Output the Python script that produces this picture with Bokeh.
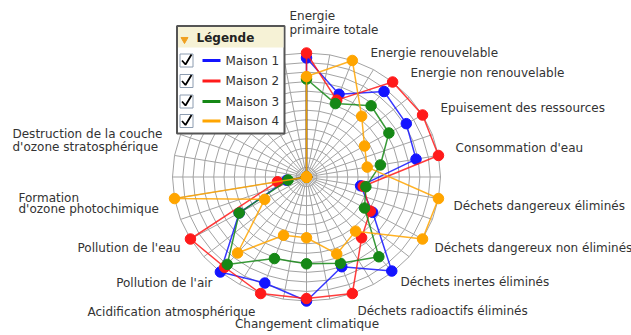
import numpy as np
from bokeh.plotting import figure
from bokeh.models import Range1d
from bokeh.core.properties import value
from bokeh.embed import file_html
from bokeh.resources import INLINE

# ---------------- data ----------------
axes_labels = [
    "Energie\nprimaire totale",
    "Energie renouvelable",
    "Energie non renouvelable",
    "Epuisement des ressources",
    "Consommation d'eau",
    "Déchets dangereux éliminés",
    "Déchets dangereux non éliminés",
    "Déchets inertes éliminés",
    "Déchets radioactifs éliminés",
    "Changement climatique",
    "Acidification atmosphérique",
    "Pollution de l'air",
    "Pollution de l'eau",
    "Formation\nd'ozone photochimique",
    "Destruction de la couche\nd'ozone stratosphérique",
    "", "", "",
]
series_names = ["Maison 1", "Maison 2", "Maison 3", "Maison 4"]
maison_1 = [96, 71, 90, 86, 83, 41, 57, 99, 77, 100, 91, 100, 58, 15, 0, 0, 0, 0]
maison_2 = [100, 66, 100, 100, 100, 43, 55, 64, 100, 98, 100, 95, 100, 22, 0, 0, 0, 0]
maison_3 = [79, 63, 75, 71, 56, 45, 50, 84, 74, 70, 70, 92, 58, 14, 0, 0, 0, 0]
maison_4 = [81, 100, 64, 50, 46, 100, 100, 57, 66, 49, 50, 80, 36, 100, 0, 0, 0, 0]
series_values = [maison_1, maison_2, maison_3, maison_4]
value_max = 100
n_rings = 13
n_spokes = 36

# ---------------- layout / style ----------------
W, H = 631, 335
CX, CY = 306, 176.5      # centre in pixels
RX, RY = 134, 124        # pixel length of one data unit (x / y)
colors = ["#1414ff", "#ff1a1a", "#168816", "#ffa500"]
FONT = value("DejaVu Sans")

def X(px):
    return (px - CX) / RX

def Y(py):
    return (CY - py) / RY

p = figure(width=W, height=H,
           x_range=Range1d(X(0), X(W)), y_range=Range1d(Y(H), Y(0)),
           min_border=0, toolbar_location=None, output_backend="svg",
           x_axis_location=None, y_axis_location=None,
           outline_line_color=None, background_fill_color="white",
           border_fill_color="white")
p.grid.grid_line_color = None

n_axes = len(axes_labels)
theta = np.arange(n_axes) * 2 * np.pi / n_axes

# web grid
sp = np.arange(n_spokes + 1) * 2 * np.pi / n_spokes
ring_xs, ring_ys = [], []
for k in range(1, n_rings + 1):
    r = k / n_rings
    ring_xs.append(list(r * np.sin(sp)))
    ring_ys.append(list(r * np.cos(sp)))
p.multi_line(ring_xs, ring_ys, line_color="#a3a3a3", line_width=1)
p.multi_line([[0, np.sin(a)] for a in sp[:-1]], [[0, np.cos(a)] for a in sp[:-1]],
             line_color="#a3a3a3", line_width=1)

# series
for vals, col in zip(series_values, colors):
    v = np.array(vals, dtype=float) / value_max
    xs = list(v * np.sin(theta)) + [v[0] * np.sin(theta[0])]
    ys = list(v * np.cos(theta)) + [v[0] * np.cos(theta[0])]
    p.line(xs, ys, line_color=col, line_width=1.5, line_alpha=0.85)
    p.scatter(v * np.sin(theta), v * np.cos(theta), size=10.5,
              fill_color=col, line_color=col)

# axis labels (pixel anchors of first line, alignment)
label_layout = [
    (289, 15, "left"), (370, 52, "left"), (410, 72, "left"), (440, 107, "left"),
    (455, 147, "left"), (453, 205, "left"), (434, 247, "left"), (400, 281, "left"),
    (357, 310, "left"), (306.5, 323, "center"), (255, 311, "right"),
    (212, 282, "right"), (180, 247, "right"), (18, 197, "left"), (12, 133, "left"),
]
line_gap = [14, 0, 0, 0, 0, 0, 0, 0, 0, 0, 0, 0, 0, 11.7, 13.5]
for i, (lx, ly, al) in enumerate(label_layout):
    parts = axes_labels[i].split("\n")
    for j, t in enumerate(parts):
        p.text([X(lx)], [Y(ly + j * line_gap[i])], text=[t], text_font=FONT,
               text_font_size="12px", text_align=al, text_baseline="middle",
               text_color="#333333")

# legend box
L, R, T, B = 176.5, 284, 25.5, 133
p.quad(left=[X(L)], right=[X(R)], top=[Y(T)], bottom=[Y(B)],
       fill_color="white", line_color="#555555", line_width=2)
p.quad(left=[X(L + 1)], right=[X(R - 1)], top=[Y(T + 1)], bottom=[Y(47)],
       fill_color="#f6f2d6", line_color=None)
p.scatter([X(184)], [Y(39)], marker="inverted_triangle", size=7,
          fill_color="#f0a020", line_color="#f0a020")
p.text([X(196)], [Y(37)], text=["Légende"], text_font=FONT, text_font_size="12px",
       text_font_style="bold", text_baseline="middle", text_color="#222222")
row_y = [60, 80.5, 101, 120.5]
for name, col, ry in zip(series_names, colors, row_y):
    p.quad(left=[X(179.5)], right=[X(192.5)], top=[Y(ry - 6.5)], bottom=[Y(ry + 6.5)],
           fill_color="white", line_color="#8c9cb0", line_width=1)
    p.line([X(181.5), X(185), X(191)], [Y(ry), Y(ry + 4), Y(ry - 6)],
           line_color="black", line_width=1.8)
    p.line([X(202), X(220)], [Y(ry), Y(ry)], line_color=col, line_width=3)
    p.text([X(225)], [Y(ry)], text=[name], text_font=FONT, text_font_size="12px",
           text_baseline="middle", text_color="#333333")

open("out.html", "w").write(file_html(p, INLINE))
